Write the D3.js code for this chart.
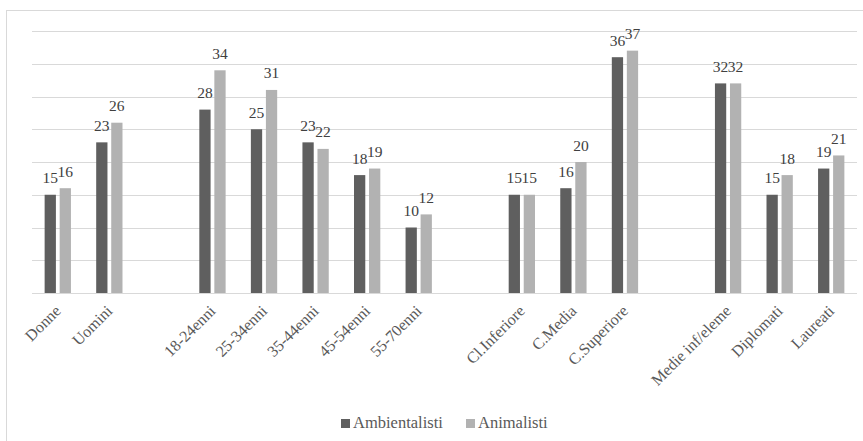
<!DOCTYPE html>
<html>
<head>
<meta charset="utf-8">
<script src="https://cdn.jsdelivr.net/npm/d3@7"></script>
<style>
  html, body { margin: 0; padding: 0; background: #fff; }
  svg { display: block; }
  text { font-family: "Liberation Serif", "DejaVu Serif", serif; }
</style>
</head>
<body>
<svg id="chart" width="863" height="441"></svg>
<script>
// Categories; empty strings are spacer slots between groups
const categories = [
  "Donne", "Uomini", "",
  "18-24enni", "25-34enni", "35-44enni", "45-54enni", "55-70enni", "",
  "Cl.Inferiore", "C.Media", "C.Superiore", "",
  "Medie inf/eleme", "Diplomati", "Laureati"
];
const ambientalisti = [15, 23, null, 28, 25, 23, 18, 10, null, 15, 16, 36, null, 32, 15, 19];
const animalisti    = [16, 26, null, 34, 31, 22, 19, 12, null, 15, 20, 37, null, 32, 18, 21];
const seriesNames = ["Ambientalisti", "Animalisti"];
const seriesColors = ["#5f5f5f", "#b2b2b2"];
const yTicks = [0, 5, 10, 15, 20, 25, 30, 35, 40];

const seriesValues = [ambientalisti, animalisti];
const svg = d3.select("#chart");
const W = 863, H = 441;
const plot = { left: 32, right: 857, top: 31, bottom: 293 };

// Chart frame
svg.append("rect")
  .attr("x", 6.5).attr("y", 10.5)
  .attr("width", W).attr("height", H)
  .attr("fill", "none").attr("stroke", "#d9d9d9").attr("stroke-width", 1);

const idx = d3.range(categories.length);
const x0 = d3.scaleBand().domain(idx).range([plot.left, plot.right]).padding(0);
const x1 = d3.scaleBand().domain(d3.range(seriesNames.length))
  .range([0, x0.bandwidth()]).paddingInner(0.25).paddingOuter(0.84);
const y = d3.scaleLinear().domain([0, 40]).range([plot.bottom, plot.top]);

// Horizontal gridlines
svg.append("g")
  .selectAll("line")
  .data(yTicks)
  .join("line")
  .attr("x1", plot.left).attr("x2", plot.right)
  .attr("y1", d => Math.round(y(d)) + 0.5).attr("y2", d => Math.round(y(d)) + 0.5)
  .attr("stroke", "#d9d9d9").attr("stroke-width", 1);

// Bars and value labels
const rows = idx.filter(i => categories[i] !== "");
seriesValues.forEach((vals, s) => {
  const g = svg.append("g");
  g.selectAll("rect")
    .data(rows)
    .join("rect")
    .attr("x", i => x0(i) + x1(s))
    .attr("width", x1.bandwidth())
    .attr("y", i => y(vals[i]))
    .attr("height", i => y(0) - y(vals[i]))
    .attr("fill", seriesColors[s]);
  g.selectAll("text")
    .data(rows)
    .join("text")
    .attr("x", i => x0(i) + x1(s) + x1.bandwidth() / 2)
    .attr("y", i => y(vals[i]) - 11.5)
    .attr("text-anchor", "middle")
    .attr("font-size", 15.5)
    .attr("fill", "#404040")
    .text(i => vals[i]);
});

// Baseline
svg.append("line")
  .attr("x1", plot.left).attr("x2", plot.right)
  .attr("y1", plot.bottom + 0.5).attr("y2", plot.bottom + 0.5)
  .attr("stroke", "#d9d9d9").attr("stroke-width", 1);

// Category axis with rotated labels
const xAxis = d3.axisBottom(x0)
  .tickSize(0)
  .tickPadding(0)
  .tickFormat(i => categories[i]);
const axisG = svg.append("g")
  .attr("transform", `translate(0,${plot.bottom + 6})`)
  .call(xAxis);
axisG.select(".domain").remove();
axisG.selectAll(".tick text")
  .attr("font-family", "Liberation Serif, serif")
  .attr("font-size", 16)
  .attr("fill", "#595959")
  .attr("text-anchor", "end")
  .attr("dy", 0)
  .attr("transform", "translate(4,13) rotate(-45)");

// Legend
const legend = svg.append("g").attr("transform", "translate(341,419)");
const legendX = [0, 125];
seriesNames.forEach((name, s) => {
  const lg = legend.append("g").attr("transform", `translate(${legendX[s]},0)`);
  lg.append("rect").attr("width", 9).attr("height", 9).attr("fill", seriesColors[s]);
  lg.append("text")
    .attr("x", 12).attr("y", 8.5)
    .attr("font-size", 16.5)
    .attr("fill", "#595959")
    .text(name);
});
</script>
</body>
</html>
